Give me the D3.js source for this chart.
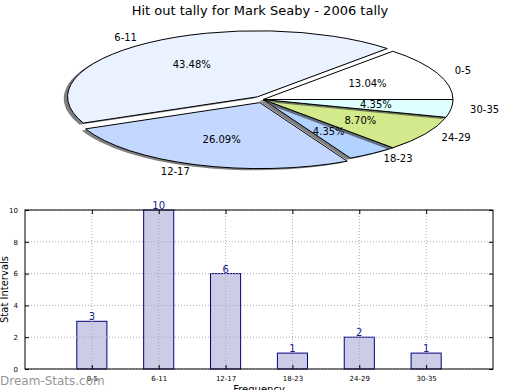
<!DOCTYPE html>
<html><head><meta charset="utf-8">
<script src="https://cdn.jsdelivr.net/npm/d3@7"></script>
<style>body{margin:0;background:#fff;}svg{display:block;font-family:"DejaVu Sans",sans-serif;}</style>
</head><body><svg id="c" width="520" height="390"></svg>
<script>
const title = "Hit out tally for Mark Seaby - 2006 tally";
const categories = ["0-5","6-11","12-17","18-23","24-29","30-35"];
const counts = [3,10,6,1,2,1];
const sliceColors = ["#ffffff","#eaf1ff","#c3d7ff","#b2d2ff","#d2ea8c","#ddffff"];
const explode = [0,0.05,0.05,0,0,0];
const yTicks = [0,2,4,6,8,10];
const xLabel = "Frequency", yLabel = "Stat Intervals", watermark = "Dream-Stats.com";

const svg = d3.select("#c");
svg.append("text").attr("x",260).attr("y",15).attr("text-anchor","middle")
  .attr("font-size",13).text(title);

// ---- Pie ----
const cx = 263, cy = 99.5, rx = 190, ry = 66;
const total = d3.sum(counts);
const pie = d3.pie().sort(null).startAngle(Math.PI/2).endAngle(Math.PI/2 - 2*Math.PI);
const arcs = pie(counts);
const arc = d3.arc().innerRadius(0).outerRadius(1);
const pg = svg.append("g").attr("transform",`translate(${cx},${cy}) scale(${rx},${ry})`);
function off(d,i){const a=(d.startAngle+d.endAngle)/2;return [explode[i]*Math.sin(a), -explode[i]*Math.cos(a)];}
const sg = pg.selectAll("g.s").data(arcs).join("g").attr("class","s")
  .attr("transform",(d,i)=>{const o=off(d,i);return `translate(${o[0]},${o[1]})`;});
sg.append("path").attr("d",arc).attr("fill","#3a3a3a").attr("fill-opacity",0.65)
  .attr("transform","translate(-0.02,0.025)");
sg.append("path").attr("d",arc).attr("fill",(d,i)=>sliceColors[i]).attr("stroke","#000")
  .attr("stroke-width",1).attr("vector-effect","non-scaling-stroke");
const lg = svg.append("g");
arcs.forEach((d,i)=>{
  const a=(d.startAngle+d.endAngle)/2, o=off(d,i);
  const ox=cx+o[0]*rx, oy=cy+o[1]*ry;
  const lx=ox+1.1*rx*Math.sin(a), ly=oy-1.1*ry*Math.cos(a);
  lg.append("text").attr("x",lx).attr("y",ly).attr("dy","0.35em").attr("font-size",10)
    .attr("text-anchor",Math.sin(a)>0?"start":"end").text(categories[i]);
  const px=ox+0.6*rx*Math.sin(a), py=oy-0.6*ry*Math.cos(a);
  lg.append("text").attr("x",px).attr("y",py).attr("dy","0.35em").attr("font-size",10)
    .attr("text-anchor","middle").text((counts[i]/total*100).toFixed(2)+"%");
});

// ---- Bars ----
const L=25,R=493,T=210,B=369;
const x = d3.scaleLinear().domain([0,categories.length+1]).range([L,R]);
const y = d3.scaleLinear().domain([0,10]).range([B,T]);
const bw = x(0.45)-x(0);
const bg = svg.append("g");
bg.selectAll("rect").data(counts).join("rect")
  .attr("x",(d,i)=>x(i+1)-bw/2).attr("width",bw).attr("y",d=>y(d)).attr("height",d=>B-y(d))
  .attr("fill","#ccccE6").attr("stroke","#000080").attr("stroke-width",1);
bg.selectAll("line.gx").data(categories).join("line").attr("x1",(d,i)=>x(i+1)).attr("x2",(d,i)=>x(i+1))
  .attr("y1",T).attr("y2",B).attr("stroke","#a8a8b8").attr("stroke-width",1).attr("stroke-dasharray","1,2");
bg.selectAll("line.gy").data(yTicks).join("line").attr("x1",L).attr("x2",R)
  .attr("y1",d=>y(d)).attr("y2",d=>y(d)).attr("stroke","#a8a8b8").attr("stroke-width",1).attr("stroke-dasharray","1,2");
bg.append("rect").attr("x",L).attr("y",T).attr("width",R-L).attr("height",B-T)
  .attr("fill","none").attr("stroke","#000").attr("stroke-width",1);
const yAx = bg.append("g").attr("transform",`translate(${L},0)`)
  .call(d3.axisLeft(y).tickValues(yTicks).tickSize(-4).tickPadding(7));
const yAxR = bg.append("g").attr("transform",`translate(${R},0)`)
  .call(d3.axisRight(y).tickValues(yTicks).tickSize(-4).tickFormat(""));
const xAx = bg.append("g").attr("transform",`translate(0,${B})`)
  .call(d3.axisBottom(x).tickValues(d3.range(1,categories.length+1)).tickSize(-4).tickPadding(7)
    .tickFormat(d=>categories[d-1]));
const xAxT = bg.append("g").attr("transform",`translate(0,${T})`)
  .call(d3.axisTop(x).tickValues(d3.range(1,categories.length+1)).tickSize(-4).tickFormat(""));
[yAx,yAxR,xAx,xAxT].forEach(g=>{g.select(".domain").remove();
  g.selectAll("text").attr("font-size",7).attr("font-family","DejaVu Sans").attr("fill","#000");
  g.selectAll(".tick line").attr("stroke","#000");});
bg.selectAll("text.v").data(counts).join("text").attr("class","v")
  .attr("x",(d,i)=>x(i+1)).attr("y",d=>y(d)-1).attr("text-anchor","middle")
  .attr("font-size",10).attr("fill","#1a1a8c").text(d=>d);
svg.append("text").attr("x",259).attr("y",393).attr("text-anchor","middle").attr("font-size",10).text(xLabel);
svg.append("text").attr("transform",`translate(8,${(T+B)/2}) rotate(-90)`).attr("text-anchor","middle")
  .attr("font-size",10).text(yLabel);
svg.append("text").attr("x",0).attr("y",385).attr("font-size",12)
  .attr("fill","#888").attr("fill-opacity",0.9).text(watermark);
</script></body></html>
